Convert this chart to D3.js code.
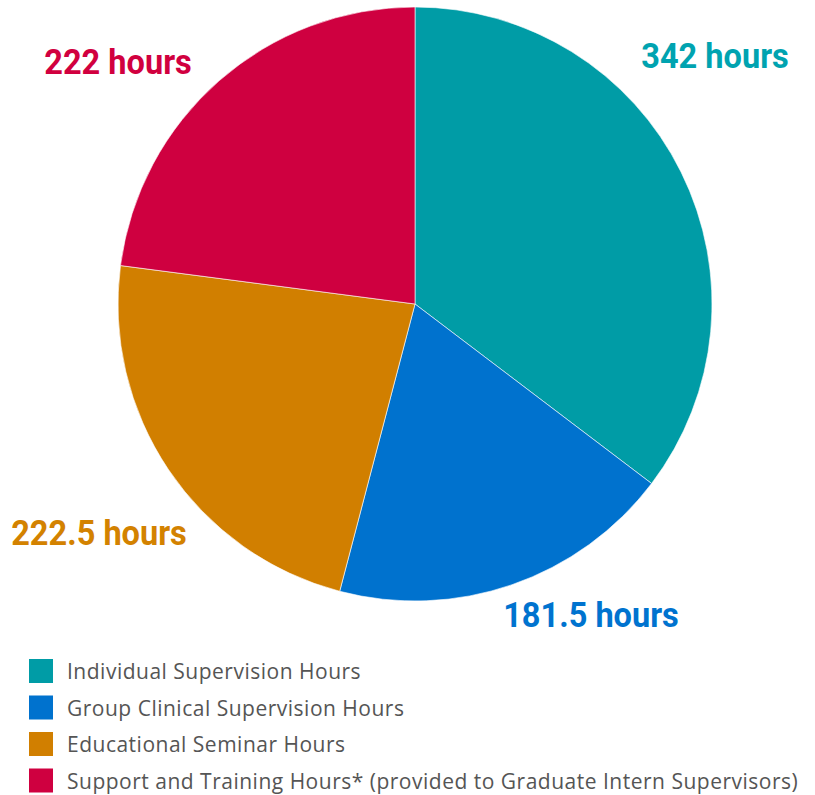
<!DOCTYPE html>
<html>
<head>
<meta charset="utf-8">
<script src="https://cdn.jsdelivr.net/npm/d3@7"></script>
<style>
  body { margin: 0; background: #fff; }
  svg { display: block; }
  .slice-label { font-family: "Roboto", "Liberation Sans", sans-serif; font-weight: bold; font-size: 35px; }
  .legend text { font-family: "Open Sans", "Lato", sans-serif; font-size: 21px; letter-spacing: 0.5px; fill: #555; }
</style>
</head>
<body>
<svg id="chart"></svg>
<script>
// hours per category, drawn clockwise from 12 o'clock
const categories = ['Individual Supervision Hours', 'Group Clinical Supervision Hours', 'Educational Seminar Hours', 'Support and Training Hours* (provided to Graduate Intern Supervisors)'];
const hours = [342, 181.5, 222.5, 222];
const labels = ['342 hours', '181.5 hours', '222.5 hours', '222 hours'];
const sliceColors = ['#009ca6', '#0072ce', '#d17f00', '#cf0040'];
const labelColors = ['#00a3b0', '#0073cf', '#d38200', '#d1003f'];

const width = 815, height = 795;
const cx = 415, cy = 304, radius = 297;

const data = categories.map((c, i) => ({ name: c, value: hours[i], label: labels[i], i }));

const svg = d3.select('#chart')
    .attr('width', width)
    .attr('height', height);

const pie = d3.pie()
    .value(d => d.value)
    .sort(null);

const arc = d3.arc()
    .innerRadius(0)
    .outerRadius(radius);

const color = d3.scaleOrdinal()
    .domain(categories)
    .range(sliceColors);

const pieG = svg.append('g')
    .attr('transform', `translate(${cx},${cy})`);

const arcs = pie(data);

pieG.selectAll('path')
    .data(arcs)
  .join('path')
    .attr('d', arc)
    .attr('fill', d => color(d.data.name))
    .attr('stroke', '#fff')
    .attr('stroke-width', 0.6);

// label centres relative to the pie centre
const labelAnchor = d3.scaleOrdinal()
    .domain(categories)
    .range([[300, -236], [176, 323], [-316, 241], [-297, -230]]);

pieG.selectAll('.slice-label')
    .data(arcs)
  .join('text')
    .attr('class', 'slice-label')
    .attr('transform', d => `translate(${labelAnchor(d.data.name)}) scale(0.93,1)`)
    .attr('text-anchor', 'middle')
    .attr('fill', d => labelColors[d.data.i])
    .text(d => d.data.label);

// legend
const legend = svg.append('g')
    .attr('class', 'legend')
    .attr('transform', 'translate(29,659)');

const rowH = 36.5;
const rows = legend.selectAll('g')
    .data(categories)
  .join('g')
    .attr('transform', (d, i) => `translate(0,${i * rowH})`);

rows.append('rect')
    .attr('width', 24)
    .attr('height', 24)
    .attr('fill', d => color(d));

rows.append('text')
    .attr('x', 38)
    .attr('y', 20)
    .text(d => d);
</script>
</body>
</html>
